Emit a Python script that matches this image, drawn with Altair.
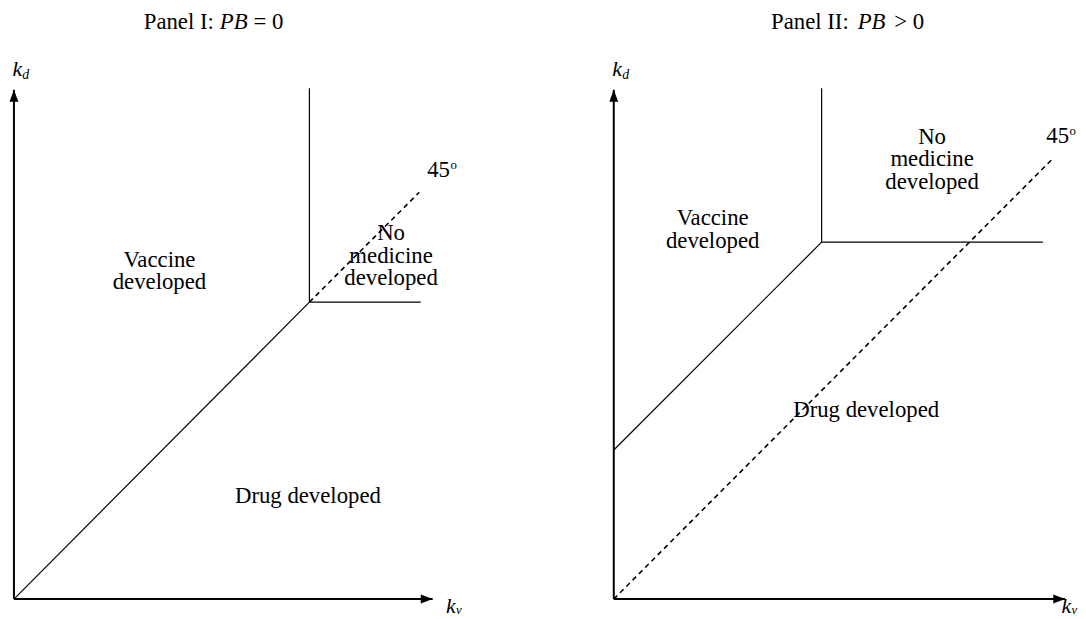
import altair as alt
import pandas as pd

FONT = "Liberation Serif"
PX = 30          # pixels per diagram unit (equal on both axes -> true 45 degrees)
H = 603
W1, W2, GAP = 580, 470, 26
YMAX = 19.8
XMIN, YMIN = -0.2, YMAX - H / PX

# ---------------- Panel I : PB = 0 ----------------
P1_AXIS_X_END = 14.1
P1_AXIS_Y_END = 17.15
P1_SOLID_X  = [0.0, 9.95, 9.95]
P1_SOLID_Y  = [0.0, 10.0, 10.0]
P1_SOLID_X2 = [9.95, 9.95, 13.7]
P1_SOLID_Y2 = [10.0, 17.2, 10.0]
P1_DASH_X, P1_DASH_Y, P1_DASH_X2, P1_DASH_Y2 = [9.95], [10.0], [13.65], [13.7]
P1_LABELS   = ["Vaccine\ndeveloped", "No\nmedicine\ndeveloped", "Drug developed"]
P1_LABEL_X  = [4.9, 12.7, 9.9]
P1_LABEL_Y  = [11.43, 12.33, 3.47]
P1_TITLE    = ["Panel I:", "PB", "= 0"]
P1_TITLE_XY = [7.4, 19.417]
P1_DEG_XY   = [14.3, 14.45]
P1_KD_XY    = [-0.05, 17.85]
P1_KV_XY    = [14.55, -0.25]

# ---------------- Panel II : PB > 0 ----------------
P2_AXIS_X_END = 15.2
P2_AXIS_Y_END = 17.15
P2_SOLID_X  = [0.0, 7.0, 7.0]
P2_SOLID_Y  = [5.02, 12.02, 12.02]
P2_SOLID_X2 = [7.0, 7.0, 14.45]
P2_SOLID_Y2 = [12.02, 17.2, 12.02]
P2_DASH_X, P2_DASH_Y, P2_DASH_X2, P2_DASH_Y2 = [0.0], [0.0], [14.8], [14.85]
P2_LABELS   = ["Vaccine\ndeveloped", "No\nmedicine\ndeveloped", "Drug developed"]
P2_LABEL_X  = [3.33, 10.72, 8.5]
P2_LABEL_Y  = [12.83, 15.57, 6.37]
P2_TITLE    = ["Panel II:", "PB", "> 0"]
P2_TITLE_XY = [8.68, 19.417]
P2_DEG_XY   = [14.95, 15.6]
P2_KD_XY    = [-0.05, 17.85]
P2_KV_XY    = [15.08, -0.25]

ARROW_UP = "M0,-1L0.75,1L-0.75,1Z"
ARROW_RIGHT = "M1,0L-1,0.75L-1,-0.75Z"

BODY = 23
TITLE = 23


def panel(width, axis_x_end, axis_y_end, sx, sy, sx2, sy2, dx, dy, dx2, dy2,
          labels, lx, ly, title, txy, degxy, kdxy, kvxy, title_gap):
    xs = alt.Scale(domain=[XMIN, XMIN + width / PX], nice=False, zero=False)
    ys = alt.Scale(domain=[YMIN, YMAX], nice=False, zero=False)
    X = lambda f="x": alt.X(f"{f}:Q", scale=xs, axis=None)
    Y = lambda f="y": alt.Y(f"{f}:Q", scale=ys, axis=None)

    axes = pd.DataFrame({"x": [0.0, 0.0], "y": [0.0, 0.0],
                         "x2": [axis_x_end, 0.0], "y2": [0.0, axis_y_end]})
    axis_layer = alt.Chart(axes).mark_rule(color="black", strokeWidth=2).encode(
        x=X(), y=Y(), x2="x2:Q", y2="y2:Q")
    up = alt.Chart(pd.DataFrame({"x": [0.0], "y": [axis_y_end]})).mark_point(
        shape=ARROW_UP, size=144, filled=True, color="black", opacity=1,
        strokeWidth=0, yOffset=6).encode(x=X(), y=Y())
    right = alt.Chart(pd.DataFrame({"x": [axis_x_end], "y": [0.0]})).mark_point(
        shape=ARROW_RIGHT, size=144, filled=True, color="black", opacity=1,
        strokeWidth=0, xOffset=-6).encode(x=X(), y=Y())

    solid = alt.Chart(pd.DataFrame({"x": sx, "y": sy, "x2": sx2, "y2": sy2})).mark_rule(
        color="black", strokeWidth=1.2).encode(x=X(), y=Y(), x2="x2:Q", y2="y2:Q")
    dash = alt.Chart(pd.DataFrame({"x": dx, "y": dy, "x2": dx2, "y2": dy2})).mark_rule(
        color="black", strokeWidth=1.6, strokeDash=[5, 4]).encode(
        x=X(), y=Y(), x2="x2:Q", y2="y2:Q")

    lab = alt.Chart(pd.DataFrame({"x": lx, "y": ly, "t": labels})).mark_text(
        font=FONT, fontSize=BODY, lineBreak="\n", lineHeight=23, baseline="middle",
        align="center", color="black").encode(x=X(), y=Y(), text="t:N")

    tdf = pd.DataFrame({"x": [txy[0]], "y": [txy[1]]})
    t_left = alt.Chart(tdf).mark_text(font=FONT, fontSize=TITLE, align="right", dx=-title_gap,
                                      baseline="middle", text=title[0]).encode(x=X(), y=Y())
    t_mid = alt.Chart(tdf).mark_text(font=FONT, fontSize=TITLE, align="center", fontStyle="italic",
                                     baseline="middle", text=title[1]).encode(x=X(), y=Y())
    t_right = alt.Chart(tdf).mark_text(font=FONT, fontSize=TITLE, align="left", dx=title_gap,
                                       baseline="middle", text=title[2]).encode(x=X(), y=Y())

    ddf = pd.DataFrame({"x": [degxy[0]], "y": [degxy[1]]})
    deg = alt.Chart(ddf).mark_text(font=FONT, fontSize=BODY, align="center", baseline="middle",
                                   text="45").encode(x=X(), y=Y())
    deg_o = alt.Chart(ddf).mark_text(font=FONT, fontSize=13, align="left", baseline="middle",
                                     dx=12, dy=-5, text="o").encode(x=X(), y=Y())

    kd = pd.DataFrame({"x": [kdxy[0]], "y": [kdxy[1]]})
    kv = pd.DataFrame({"x": [kvxy[0]], "y": [kvxy[1]]})
    kd_k = alt.Chart(kd).mark_text(font=FONT, fontSize=22, fontStyle="italic", align="left",
                                   baseline="middle", text="k").encode(x=X(), y=Y())
    kd_s = alt.Chart(kd).mark_text(font=FONT, fontSize=14, fontStyle="italic", align="left",
                                   baseline="middle", dx=10, dy=6, text="d").encode(x=X(), y=Y())
    kv_k = alt.Chart(kv).mark_text(font=FONT, fontSize=22, fontStyle="italic", align="left",
                                   baseline="middle", text="k").encode(x=X(), y=Y())
    kv_s = alt.Chart(kv).mark_text(font=FONT, fontSize=13, fontStyle="italic", align="left",
                                   baseline="middle", dx=10, dy=4, text="v").encode(x=X(), y=Y())

    return alt.layer(axis_layer, up, right, solid, dash, lab, t_left, t_mid, t_right,
                     deg, deg_o, kd_k, kd_s, kv_k, kv_s).properties(width=width, height=H)


p1 = panel(W1, P1_AXIS_X_END, P1_AXIS_Y_END, P1_SOLID_X, P1_SOLID_Y, P1_SOLID_X2, P1_SOLID_Y2,
           P1_DASH_X, P1_DASH_Y, P1_DASH_X2, P1_DASH_Y2, P1_LABELS, P1_LABEL_X, P1_LABEL_Y,
           P1_TITLE, P1_TITLE_XY, P1_DEG_XY, P1_KD_XY, P1_KV_XY, 20)
p2 = panel(W2, P2_AXIS_X_END, P2_AXIS_Y_END, P2_SOLID_X, P2_SOLID_Y, P2_SOLID_X2, P2_SOLID_Y2,
           P2_DASH_X, P2_DASH_Y, P2_DASH_X2, P2_DASH_Y2, P2_LABELS, P2_LABEL_X, P2_LABEL_Y,
           P2_TITLE, P2_TITLE_XY, P2_DEG_XY, P2_KD_XY, P2_KV_XY, 23)

chart = alt.hconcat(p1, p2, spacing=GAP).resolve_scale(
    x="independent", y="independent").properties(padding=0).configure_view(stroke=None)

chart.save("out.html", embed_options={"renderer": "svg", "actions": False})
